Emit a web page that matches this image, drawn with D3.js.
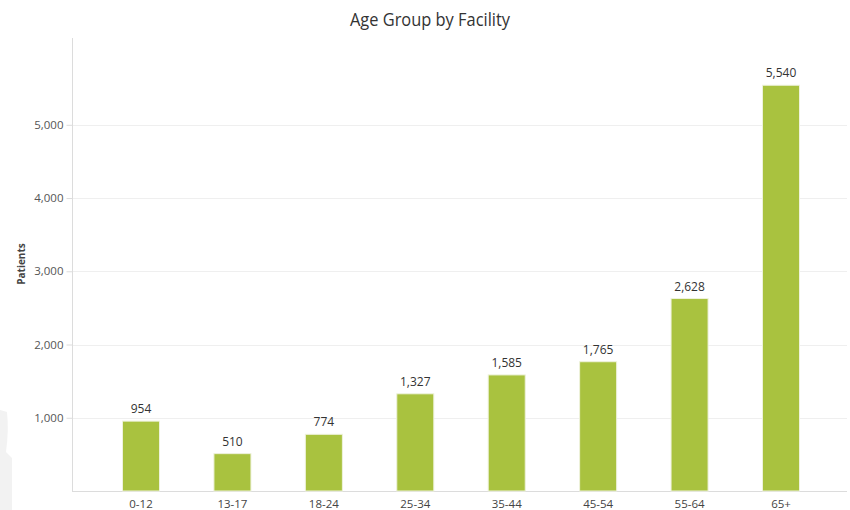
<!DOCTYPE html>
<html>
<head>
<meta charset="utf-8">
<script src="https://cdn.jsdelivr.net/npm/d3@7"></script>
<style>
  body { margin: 0; background: #fff; }
  svg { display: block; font-family: "Open Sans", sans-serif; }
</style>
</head>
<body>
<div id="chart"></div>
<script>
const ageGroups = ["0-12", "13-17", "18-24", "25-34", "35-44", "45-54", "55-64", "65+"]
const patients = [954, 510, 774, 1327, 1585, 1765, 2628, 5540]
const yTicks = [1000, 2000, 3000, 4000, 5000]

const width = 850, height = 510
const plotLeft = 72, plotRight = 847, plotTop = 38, plotBottom = 491

const svg = d3.select('#chart').append('svg')
    .attr('width', width)
    .attr('height', height)

// faint background shape in the corner
svg.append('path')
    .attr('d', 'M0,410 L7,412 Q9,430 6,452 L12,458 L12,510 L0,510 Z')
    .attr('fill', '#f2f2f2')

const x = d3.scaleBand()
    .domain(ageGroups)
    .range([95.3, 826.7])
    .paddingInner(0.595)
    .paddingOuter(0.2975)

const y = d3.scaleLinear()
    .domain([0, 6185])
    .range([plotBottom, plotTop])

// grid
svg.append('g').selectAll('line')
    .data(yTicks)
    .enter().append('line')
    .attr('x1', plotLeft).attr('x2', plotRight)
    .attr('y1', d => Math.round(y(d)) + 0.5)
    .attr('y2', d => Math.round(y(d)) + 0.5)
    .attr('stroke', '#efefef')

// y axis
const yAxis = svg.append('g')
    .attr('transform', `translate(${plotLeft + 0.5},0)`)
    .call(d3.axisLeft(y).tickValues(yTicks).tickFormat(d3.format(',')).tickSize(6).tickPadding(3))
yAxis.select('.domain').attr('d', `M0,${plotTop}V${plotBottom}`).attr('stroke', '#dcdcdc')
yAxis.selectAll('.tick line').attr('stroke', '#dcdcdc')
yAxis.selectAll('.tick text')
    .attr('fill', '#555')
    .style('font-size', '11.5px')
    .style('font-family', '"Open Sans", sans-serif')

// x axis
const xAxis = svg.append('g')
    .attr('transform', `translate(0,${plotBottom + 0.5})`)
    .call(d3.axisBottom(x).tickSize(0).tickPadding(8))
xAxis.select('.domain').attr('d', `M${plotLeft},0H${plotRight}`).attr('stroke', '#dcdcdc')
xAxis.selectAll('.tick text')
    .attr('fill', '#444')
    .style('font-size', '11.5px')
    .style('font-family', '"Open Sans", sans-serif')

// bars
svg.append('g').selectAll('rect')
    .data(patients)
    .enter().append('rect')
    .attr('x', (d, i) => x(ageGroups[i]))
    .attr('y', d => y(d))
    .attr('width', x.bandwidth())
    .attr('height', d => plotBottom - y(d))
    .attr('fill', '#a9c23f')
    .attr('stroke', '#eef2dc')
    .attr('stroke-width', 1)

// value labels
svg.append('g').selectAll('text')
    .data(patients)
    .enter().append('text')
    .attr('x', (d, i) => x(ageGroups[i]) + x.bandwidth() / 2)
    .attr('y', d => y(d) - 8)
    .attr('text-anchor', 'middle')
    .attr('fill', '#333')
    .style('font-size', '12px')
    .text(d3.format(','))

// title
svg.append('text')
    .attr('x', 430)
    .attr('y', 26)
    .attr('text-anchor', 'middle')
    .attr('fill', '#333')
    .attr('textLength', 160)
    .attr('lengthAdjust', 'spacingAndGlyphs')
    .style('font-size', '19px')
    .text('Age Group by Facility')

// y label
svg.append('text')
    .attr('transform', 'translate(25,264) rotate(-90)')
    .attr('text-anchor', 'middle')
    .attr('fill', '#444')
    .style('font-size', '10px')
    .style('font-weight', 'bold')
    .text('Patients')
</script>
</body>
</html>
